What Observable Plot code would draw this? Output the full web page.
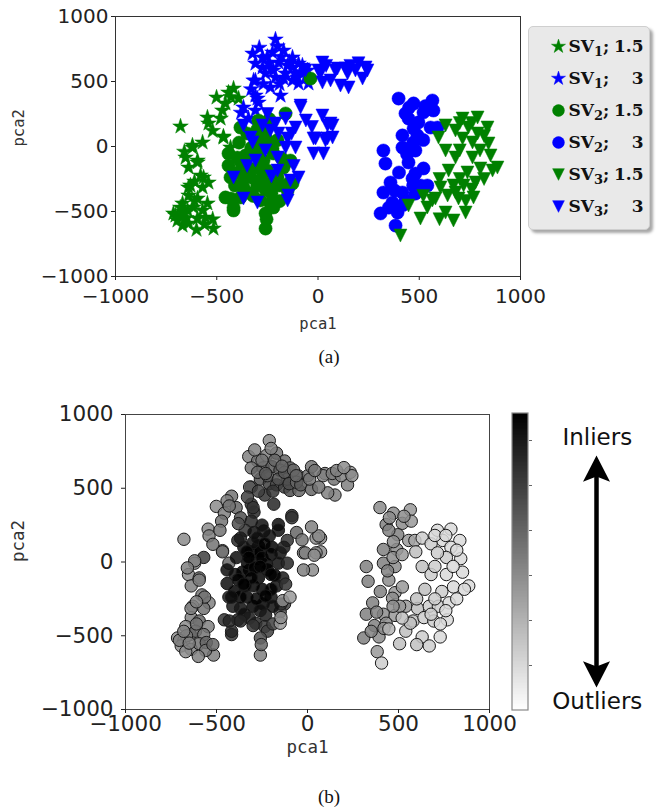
<!DOCTYPE html>
<html><head><meta charset="utf-8">
<script src="https://cdn.jsdelivr.net/npm/d3@7"></script>
<script src="https://cdn.jsdelivr.net/npm/@observablehq/plot@0.6"></script>
<style>
body{margin:0;background:#fff;}
#fig{position:relative;width:658px;height:808px;overflow:hidden;font-family:"DejaVu Sans";}
.cap{position:absolute;width:100px;text-align:center;font-family:"Liberation Serif";font-size:19px;line-height:20px;color:#111;}
#legend{position:absolute;left:528px;top:26px;width:120px;height:202px;background:#e9e9e9;border:1px solid #cfcfcf;border-radius:5px;box-shadow:3px 3px 3px rgba(0,0,0,0.35);}
</style></head><body><div id="fig"></div>
<script>
// ---------- data: [pca1, pca2, inlier score] ----------
const sv1_15 = [[-417,446,0.55],[-442,415,0.5],[-392,369,0.6],[-501,377,0.45],[-457,331,0.5],[-472,277,0.55],[-546,223,0.45],[-541,177,0.5],[-481,215,0.55],[-679,154,0.45],[-467,77,0.6],[-570,31,0.75],[-620,-8,0.45],[-432,-8,0.6],[-654,-85,0.45],[-595,-108,0.6],[-639,-162,0.5],[-580,-223,0.55],[-541,-277,0.5],[-630,-300,0.45],[-570,-315,0.55],[-639,-377,0.5],[-595,-400,0.6],[-546,-438,0.5],[-669,-438,0.45],[-714,-515,0.45],[-679,-531,0.5],[-644,-492,0.55],[-615,-469,0.6],[-570,-492,0.55],[-694,-569,0.45],[-639,-592,0.5],[-595,-554,0.55],[-556,-546,0.6],[-516,-631,0.5],[-665,-500,0.5],[-595,-123,0.5],[-640,-315,0.5],[-565,-238,0.55],[-620,8,0.5],[-467,69,0.55],[-704,-531,0.5],[-669,-608,0.45],[-610,-420,0.55],[-680,-470,0.5],[-650,-550,0.5],[-560,-600,0.55],[-600,-640,0.5],[-520,-560,0.6],[-610,-270,0.5],[-520,120,0.55],[-430,380,0.55],[-660,-40,0.5]];
const sv1_3 = [[-210,823,0.45],[-323,715,0.5],[-274,685,0.55],[-225,723,0.5],[-170,738,0.55],[-126,685,0.6],[-309,638,0.55],[-244,638,0.6],[-195,646,0.65],[-151,623,0.65],[-96,638,0.6],[-77,569,0.65],[-309,508,0.7],[-259,562,0.7],[-210,531,0.75],[-170,523,0.7],[-126,508,0.75],[-96,485,0.7],[-235,454,0.8],[-185,392,0.85],[-309,392,0.8],[-294,338,0.85],[-368,300,0.7],[-309,277,0.85],[-343,215,0.8],[-47,485,0.6],[-52,585,0.6],[-111,562,0.65],[-274,608,0.6],[-220,585,0.65],[-160,562,0.7],[-126,608,0.65],[-380,260,0.7],[-299,369,0.8],[-318,508,0.65],[-77,623,0.6],[-101,531,0.7],[-290,760,0.5],[-250,690,0.55],[-180,690,0.6],[-140,650,0.6],[-230,600,0.65],[-190,480,0.8],[-270,480,0.75],[-330,440,0.75],[-60,540,0.6],[-200,770,0.5]];
const sv2_15 = [[-160,254,0.95],[-294,200,0.95],[-383,146,0.85],[-269,108,1],[-37,523,0.65],[-442,-54,0.95],[-442,-146,0.95],[-432,-238,0.9],[-457,-392,0.8],[-417,-492,0.8],[-368,-315,0.95],[-333,-238,1],[-299,-162,1],[-269,-108,1],[-249,-185,1],[-383,-392,0.9],[-348,-354,0.95],[-284,-415,0.85],[-235,-438,0.8],[-220,-469,0.75],[-259,-515,0.7],[-259,-631,0.5],[-200,-238,0.95],[-170,-162,0.95],[-136,-108,0.9],[-220,-54,1],[-318,-54,1],[-398,-85,0.95],[-244,-285,1],[-126,-285,0.75],[-150,-338,0.7],[-368,-238,1],[-343,-162,1],[-358,-69,1],[-274,23,1],[-225,-15,1],[-309,69,1],[-259,69,1],[-417,-470,0.85],[-254,-560,0.6],[-146,-285,0.8],[-400,-200,1],[-380,-120,1],[-300,-300,1],[-320,-380,0.9],[-280,-250,1],[-260,-330,0.95],[-230,-360,0.9],[-190,-300,0.95],[-330,-10,1],[-290,-40,1],[-250,30,1],[-200,50,1],[-180,-90,1],[-410,-300,0.9],[-300,130,0.95],[-240,210,0.9],[-350,100,0.95],[-390,30,0.95],[-430,-400,0.85],[-190,-420,0.75]];
const sv2_3 = [[398,369,0.45],[472,331,0.45],[565,354,0.4],[432,254,0.5],[521,262,0.45],[570,277,0.4],[496,185,0.5],[556,146,0.4],[417,85,0.5],[491,85,0.45],[417,-8,0.5],[481,-31,0.45],[323,-31,0.5],[333,-131,0.5],[447,-123,0.45],[481,-208,0.4],[467,-246,0.45],[540,-300,0.4],[358,-277,0.5],[323,-354,0.5],[417,-354,0.45],[368,-431,0.5],[481,-362,0.4],[309,-515,0.5],[393,-508,0.45],[383,-608,0.4],[432,-415,0.45],[506,-300,0.4],[472,138,0.45],[447,215,0.5],[521,-169,0.4],[590,146,0.35],[450,300,0.45],[530,310,0.45],[470,30,0.45],[440,-60,0.5],[380,-340,0.5],[350,-470,0.5],[420,-450,0.45],[470,-300,0.45],[400,-200,0.5],[520,50,0.4]];
const sv3_15 = [[630,162,0.2],[595,69,0.25],[714,215,0.15],[788,223,0.15],[743,146,0.15],[837,146,0.15],[679,123,0.2],[788,100,0.15],[842,23,0.15],[763,31,0.2],[714,62,0.2],[630,-31,0.25],[679,-85,0.2],[763,-85,0.15],[852,-69,0.15],[645,-185,0.25],[738,-200,0.2],[802,-169,0.15],[886,-162,0.15],[862,-185,0.15],[605,-315,0.25],[669,-300,0.2],[719,-300,0.2],[778,-277,0.15],[580,-400,0.25],[640,-377,0.2],[694,-400,0.2],[768,-392,0.15],[447,-454,0.3],[540,-469,0.25],[630,-508,0.2],[729,-508,0.15],[506,-554,0.25],[669,-569,0.2],[407,-685,0.2],[565,-415,0.25],[679,-354,0.2],[700,180,0.15],[760,180,0.15],[820,80,0.15],[700,-30,0.2],[800,-30,0.15],[600,-250,0.25],[700,-250,0.2],[820,-250,0.15],[730,-420,0.15],[600,-560,0.25],[520,-380,0.25],[760,-330,0.15]];
const sv3_3 = [[96,600,0.5],[146,562,0.55],[151,454,0.5],[235,608,0.45],[220,523,0.5],[72,162,0.45],[72,69,0.45],[2,585,0.55],[22,492,0.6],[-86,315,0.85],[-368,162,0.9],[-333,69,1],[-274,162,0.95],[-210,177,0.95],[-160,215,0.95],[-111,146,0.8],[-195,100,1],[-150,62,0.95],[-160,-8,0.95],[-111,-8,0.85],[-22,62,0.5],[47,162,0.45],[27,-54,0.45],[-22,-54,0.5],[-309,-108,1],[-200,-85,1],[-200,-185,1],[-136,-262,0.45],[-96,-238,0.4],[-299,-431,0.8],[-150,-415,0.4],[-417,-238,0.95],[-368,-400,0.85],[-235,123,1],[-323,31,1],[22,646,0.55],[12,562,0.55],[-86,300,0.8],[62,177,0.45],[-12,62,0.5],[47,62,0.45],[-62,585,0.6],[86,585,0.5],[136,600,0.5],[185,585,0.5],[244,585,0.45],[111,469,0.5],[62,508,0.55],[22,238,0.5],[37,46,0.45],[-146,-377,0.45],[-250,250,0.95],[-130,100,0.9],[-260,-30,1],[-350,-150,1],[-230,-230,1],[-120,-150,0.8],[-60,200,0.6],[-30,150,0.55],[160,620,0.5],[40,620,0.55],[200,640,0.45]];

const seriesData = [sv1_15, sv1_3, sv2_15, sv2_3, sv3_15, sv3_3];
const seriesKeys = ["sv1_15","sv1_3","sv2_15","sv2_3","sv3_15","sv3_3"];
const seriesSub = ["1","1","2","2","3","3"];
const seriesParams = ["1.5","3","1.5","3","1.5","3"];
const seriesColors = ["#008000","#0000ff","#008000","#0000ff","#008000","#0000ff"];
const seriesShapes = ["star","star","circle","circle","tri","tri"];
const xTicks = [-1000,-500,0,500,1000];
const yTicks = [-1000,-500,0,500,1000];
const cbarTicks = [1,2,3,4,5,6];

// ---------- helpers ----------
const triDown = {draw(ctx,size){const s=Math.sqrt(size/Math.PI);ctx.moveTo(0,s);ctx.lineTo(s,-s);ctx.lineTo(-s,-s);ctx.closePath();}};
const headUp = {draw(ctx,size){const r=Math.sqrt(size/Math.PI);ctx.moveTo(0,-r);ctx.lineTo(r,r*0.95);ctx.lineTo(0,r*0.55);ctx.lineTo(-r,r*0.95);ctx.closePath();}};
const headDown = {draw(ctx,size){const r=Math.sqrt(size/Math.PI);ctx.moveTo(0,r);ctx.lineTo(r,-r*0.95);ctx.lineTo(0,-r*0.55);ctx.lineTo(-r,-r*0.95);ctx.closePath();}};
const shapeSym = {star:"star", circle:"circle", tri:triDown};
const shapeR = {star:4.9, circle:6.6, tri:6.5};
const fmt = d => (d < 0 ? "\u2212" : "") + Math.abs(d);
const fig = document.getElementById("fig");
function place(el, left, top){ el.style.position="absolute"; el.style.left=left+"px"; el.style.top=top+"px"; fig.appendChild(el); return el; }

// ---------- (a) scatter ----------
const topPlot = Plot.plot({
  width:530, height:345, marginLeft:115, marginRight:10, marginTop:16, marginBottom:69,
  x:{domain:[-1000,1000]}, y:{domain:[-1000,1000]},
  style:{fontFamily:"DejaVu Sans", background:"transparent", overflow:"visible"},
  marks:[
    ...seriesData.map((d,i)=>Plot.dot(d,{x:p=>p[0], y:p=>p[1], symbol:shapeSym[seriesShapes[i]], r:shapeR[seriesShapes[i]], fill:seriesColors[i], stroke:seriesColors[i], strokeWidth:0.5})),
    Plot.frame({stroke:"#333"}),
    Plot.axisX({ticks:xTicks, tickFormat:fmt, tickSize:4, tickPadding:8, fontSize:20, label:null, color:"#222"}),
    Plot.axisY({ticks:yTicks, tickFormat:fmt, tickSize:4, tickPadding:3, fontSize:20, label:null, color:"#222"}),
    Plot.text(["pca1"],{text:d=>d, frameAnchor:"bottom", dy:41, lineAnchor:"top", fontFamily:"DejaVu Sans Mono", fontSize:15.5, fill:"#333"}),
    Plot.text(["pca2"],{text:d=>d, frameAnchor:"left", dx:-96, rotate:-90, lineAnchor:"middle", fontFamily:"DejaVu Sans Mono", fontSize:15.5, fill:"#333"})
  ]
});
place(topPlot, 0, 0);

// legend
const legendBox = document.createElement("div"); legendBox.id="legend"; fig.appendChild(legendBox);
const legendPlot = Plot.plot({
  width:120, height:202, margin:0,
  x:{domain:[0,120], range:[0,120], axis:null},
  y:{type:"point", domain:seriesKeys, range:[18,179], padding:0, axis:null},
  style:{background:"transparent", overflow:"visible"},
  marks:[
    ...seriesKeys.map((k,i)=>Plot.dot([k],{x:()=>29, y:d=>d, symbol:shapeSym[seriesShapes[i]], r:shapeR[seriesShapes[i]]*0.9, fill:seriesColors[i], stroke:seriesColors[i], strokeWidth:0.5})),
    Plot.text(seriesKeys,{x:()=>39, y:d=>d, text:(d,i)=>"SV"+seriesSub[i]+";", textAnchor:"start", lineAnchor:"middle", fontFamily:"DejaVu Serif", fontWeight:"bold", fontSize:17, fill:"#111"}),
    Plot.text(seriesKeys,{x:()=>114, y:d=>d, text:(d,i)=>seriesParams[i], textAnchor:"end", lineAnchor:"middle", fontFamily:"DejaVu Serif", fontWeight:"bold", fontSize:17, fill:"#111"})
  ]
});
legendPlot.style.position="absolute"; legendPlot.style.left="0px"; legendPlot.style.top="0px";
legendBox.appendChild(legendPlot);
// subscripts
legendPlot.querySelectorAll("text").forEach(t=>{
  const m = t.textContent.match(/^SV(\d);$/);
  if(!m) return;
  t.textContent = "SV";
  const ns = "http://www.w3.org/2000/svg";
  const sub = document.createElementNS(ns,"tspan"); sub.setAttribute("dy","4.5"); sub.setAttribute("font-size","13"); sub.textContent=m[1];
  const semi = document.createElementNS(ns,"tspan"); semi.setAttribute("dy","-4.5"); semi.textContent=";";
  t.appendChild(sub); t.appendChild(semi);
});

const capA = document.createElement("div"); capA.className="cap"; capA.textContent="(a)"; place(capA, 279, 347);

// ---------- (b) scatter ----------
const allPoints = seriesData.flat();
const botPlot = Plot.plot({
  width:500, height:375, marginLeft:125, marginRight:11, marginTop:14, marginBottom:66,
  x:{domain:[-1000,1000]}, y:{domain:[-1000,1000]},
  color:{type:"linear", domain:[0,1], range:["#ffffff","#000000"], interpolate:"rgb"},
  style:{fontFamily:"DejaVu Sans", background:"transparent", overflow:"visible"},
  marks:[
    Plot.dot(allPoints,{x:p=>p[0], y:p=>p[1], r:6.2, fill:p=>p[2], fillOpacity:0.85, stroke:"#1a1a1a", strokeWidth:1}),
    Plot.frame({stroke:"#444"}),
    Plot.axisX({ticks:xTicks, tickFormat:fmt, tickSize:4, tickPadding:2, fontSize:21.5, label:null, color:"#222"}),
    Plot.axisY({ticks:yTicks, tickFormat:fmt, tickSize:4, tickPadding:8, fontSize:21.5, label:null, color:"#222"}),
    Plot.text(["pca1"],{text:d=>d, frameAnchor:"bottom", dy:31, lineAnchor:"top", fontFamily:"DejaVu Sans Mono", fontSize:17.5, fill:"#333"}),
    Plot.text(["pca2"],{text:d=>d, frameAnchor:"left", dx:-107, rotate:-90, lineAnchor:"middle", fontFamily:"DejaVu Sans Mono", fontSize:17.5, fill:"#333"})
  ]
});
place(botPlot, 0, 400);

// colorbar + annotation
const cbarStops = d3.range(0, 6.6, 0.033);
const cbar = Plot.plot({
  width:158, height:330, marginLeft:12, marginRight:130, marginTop:13, marginBottom:20,
  x:{domain:[0,1], axis:null}, y:{domain:[0,6.6]},
  color:{type:"linear", domain:[0,6.6], range:["#ffffff","#000000"], interpolate:"rgb"},
  style:{fontFamily:"DejaVu Sans", background:"transparent", overflow:"visible"},
  marks:[
    Plot.rect(cbarStops,{x1:0, x2:1, y1:d=>d, y2:d=>Math.min(6.6,d+0.045), fill:d=>d+0.0165, shapeRendering:"crispEdges"}),
    Plot.rect([0],{x1:0, x2:1, y1:()=>0, y2:()=>6.6, fill:"none", stroke:"#888", strokeWidth:1.2}),
    Plot.axisY({anchor:"right", ticks:cbarTicks, tickSize:3, tickFormat:()=>"", label:null, color:"#666"}),
    Plot.ruleX([0],{x:()=>5.25, y1:()=>0.85, y2:()=>5.33, stroke:"#000", strokeWidth:4.5}),
    Plot.dot([0],{x:()=>5.25, y:()=>5.367, symbol:headUp, r:13.5, fill:"#000"}),
    Plot.dot([0],{x:()=>5.25, y:()=>0.811, symbol:headDown, r:13.5, fill:"#000"}),
    Plot.text(["Inliers"],{text:d=>d, x:()=>5.3, y:()=>5.889, textAnchor:"middle", lineAnchor:"bottom", fontSize:23, fill:"#111"}),
    Plot.text(["Outliers"],{text:d=>d, x:()=>5.3, y:()=>0.044, textAnchor:"middle", lineAnchor:"bottom", fontSize:23, fill:"#111"})
  ]
});
place(cbar, 500, 400);

const capB = document.createElement("div"); capB.className="cap"; capB.textContent="(b)"; place(capB, 279, 787);
</script></body></html>
